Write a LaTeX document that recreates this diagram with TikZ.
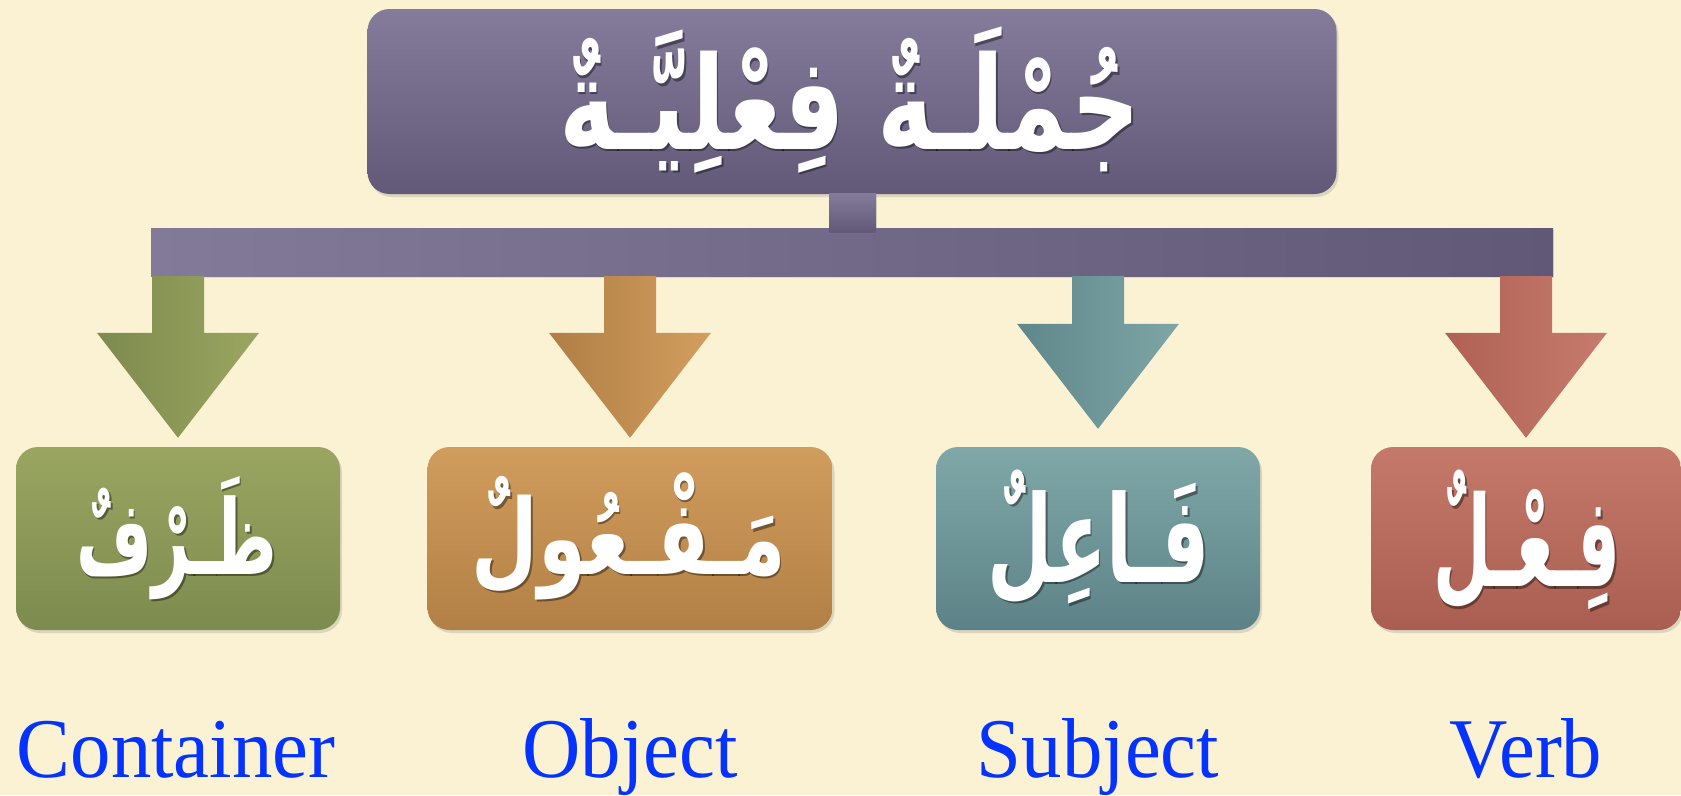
\documentclass[tikz,border=0pt]{standalone}
\usepackage{fontspec}
\setmainfont{Liberation Serif}
\newfontfamily\arabicfont[Script=Arabic]{DejaVu Sans}
\TeXXeTstate=1
\usetikzlibrary{calc,shadows}
\definecolor{bg}{RGB}{251,242,212}
\definecolor{purpleT}{RGB}{133,124,156}
\definecolor{purpleB}{RGB}{98,88,120}
\definecolor{purpleL}{RGB}{131,122,154}
\definecolor{purpleR}{RGB}{97,87,119}
\definecolor{greenT}{RGB}{154,165,97}
\definecolor{greenB}{RGB}{124,139,78}
\definecolor{greenD}{RGB}{125,138,78}
\definecolor{greenL}{RGB}{154,166,96}
\definecolor{orangeT}{RGB}{209,157,93}
\definecolor{orangeB}{RGB}{178,127,69}
\definecolor{orangeD}{RGB}{176,126,69}
\definecolor{orangeL}{RGB}{211,158,94}
\definecolor{tealT}{RGB}{128,168,168}
\definecolor{tealB}{RGB}{92,130,135}
\definecolor{tealD}{RGB}{95,134,138}
\definecolor{tealL}{RGB}{127,166,166}
\definecolor{redT}{RGB}{196,121,106}
\definecolor{redB}{RGB}{169,94,81}
\definecolor{redD}{RGB}{175,98,83}
\definecolor{redL}{RGB}{199,123,108}
\definecolor{labelblue}{RGB}{4,51,255}
\newcommand\pointer[4]{%
  \path[left color=#3,right color=#4] let \p1=(#1.north), \p2=(bar.south) in
    (\x1-26pt,\y2) -- (\x1+26pt,\y2) -- (\x1+26pt,\y1+114pt+#2) --
    (\x1+81pt,\y1+114pt+#2) -- (\x1,\y1+9pt+#2) -- (\x1-81pt,\y1+114pt+#2) --
    (\x1-26pt,\y1+114pt+#2) -- cycle;}
\newcommand\artxt[3]{% name, position, text
  \node[arshadow] (#1s) at ($(#2)+(1.5,2.5)$) {#3};
  \node[artext] (#1) at (#2) {#3};}
\tikzset{
  catbox/.style={rounded corners=22pt, minimum height=183pt, inner sep=0pt,
    drop shadow={shadow xshift=2pt, shadow yshift=-3pt, opacity=0.25}},
  artext/.style={text=white, inner sep=0pt, font=\arabicfont\bfseries},
  arshadow/.style={text=black, opacity=0.4, inner sep=0pt, font=\arabicfont\bfseries},
  engl/.style={text=labelblue, font=\fontsize{85}{90}\selectfont, anchor=base, inner sep=0pt},
}
\begin{document}
\begin{tikzpicture}[x=1pt,y=-1pt]
\fill[bg] (0,0) rectangle (1681,795);
\useasboundingbox (0,0) rectangle (1681,795);
% title
\node[catbox, top color=purpleT, bottom color=purpleB, minimum width=969pt, minimum height=185pt] (title) at (852,101.5) {};
% bar
\node[inner sep=0pt, minimum width=1402pt, minimum height=48pt, left color=purpleL, right color=purpleR,
  drop shadow={shadow xshift=1pt, shadow yshift=-2pt, opacity=0.2}] (bar) at (852,252) {};
% stem
\node[inner sep=0pt, minimum width=47pt, minimum height=39pt, top color=purpleT, bottom color=purpleB,
  drop shadow={shadow xshift=1pt, shadow yshift=-2pt, opacity=0.2}] (stem) at (852.5,212.5) {};
% boxes
\node[catbox, top color=greenT, bottom color=greenB, minimum width=324pt] (zarf) at (178,538.5) {};
\node[catbox, top color=orangeT, bottom color=orangeB, minimum width=405pt] (mafool) at (630,538.5) {};
\node[catbox, top color=tealT, bottom color=tealB, minimum width=324pt] (fail) at (1098,538.5) {};
\node[catbox, top color=redT, bottom color=redB, minimum width=310pt] (fil) at (1526,538.5) {};
% arrows
\pointer{zarf}{0pt}{greenD}{greenL}
\pointer{mafool}{0pt}{orangeD}{orangeL}
\pointer{fail}{9pt}{tealD}{tealL}
\pointer{fil}{0pt}{redD}{redL}
% arabic texts
\coordinate (pt) at (850,100);
\coordinate (pz) at (177,538);
\coordinate (pm) at (629,536);
\coordinate (pf) at (1099,537);
\coordinate (pv) at (1527,540);
\artxt{tt}{pt}{\resizebox*{581pt}{146pt}{\beginR جُمْلَـةٌ فِعْلِيَّـةٌ\endR}}
\artxt{tz}{pz}{\resizebox*{201pt}{123pt}{\beginR ظَـرْفٌ\endR}}
\artxt{tm}{pm}{\resizebox*{314pt}{127pt}{\beginR مَـفْـعُولٌ\endR}}
\artxt{tf}{pf}{\resizebox*{222pt}{135pt}{\beginR فَـاعِلٌ\endR}}
\artxt{tv}{pv}{\resizebox*{188pt}{140pt}{\beginR فِـعْـلٌ\endR}}
% english labels
\node[engl] (lc) at (176,777) {\scalebox{0.95}[1]{Container}};
\node[engl] (lo) at (630,777) {\scalebox{0.95}[1]{Object}};
\node[engl] (ls) at (1098,777) {\scalebox{0.95}[1]{Subject}};
\node[engl] (lv) at (1526,777) {\scalebox{0.95}[1]{Verb}};
\end{tikzpicture}
\end{document}
